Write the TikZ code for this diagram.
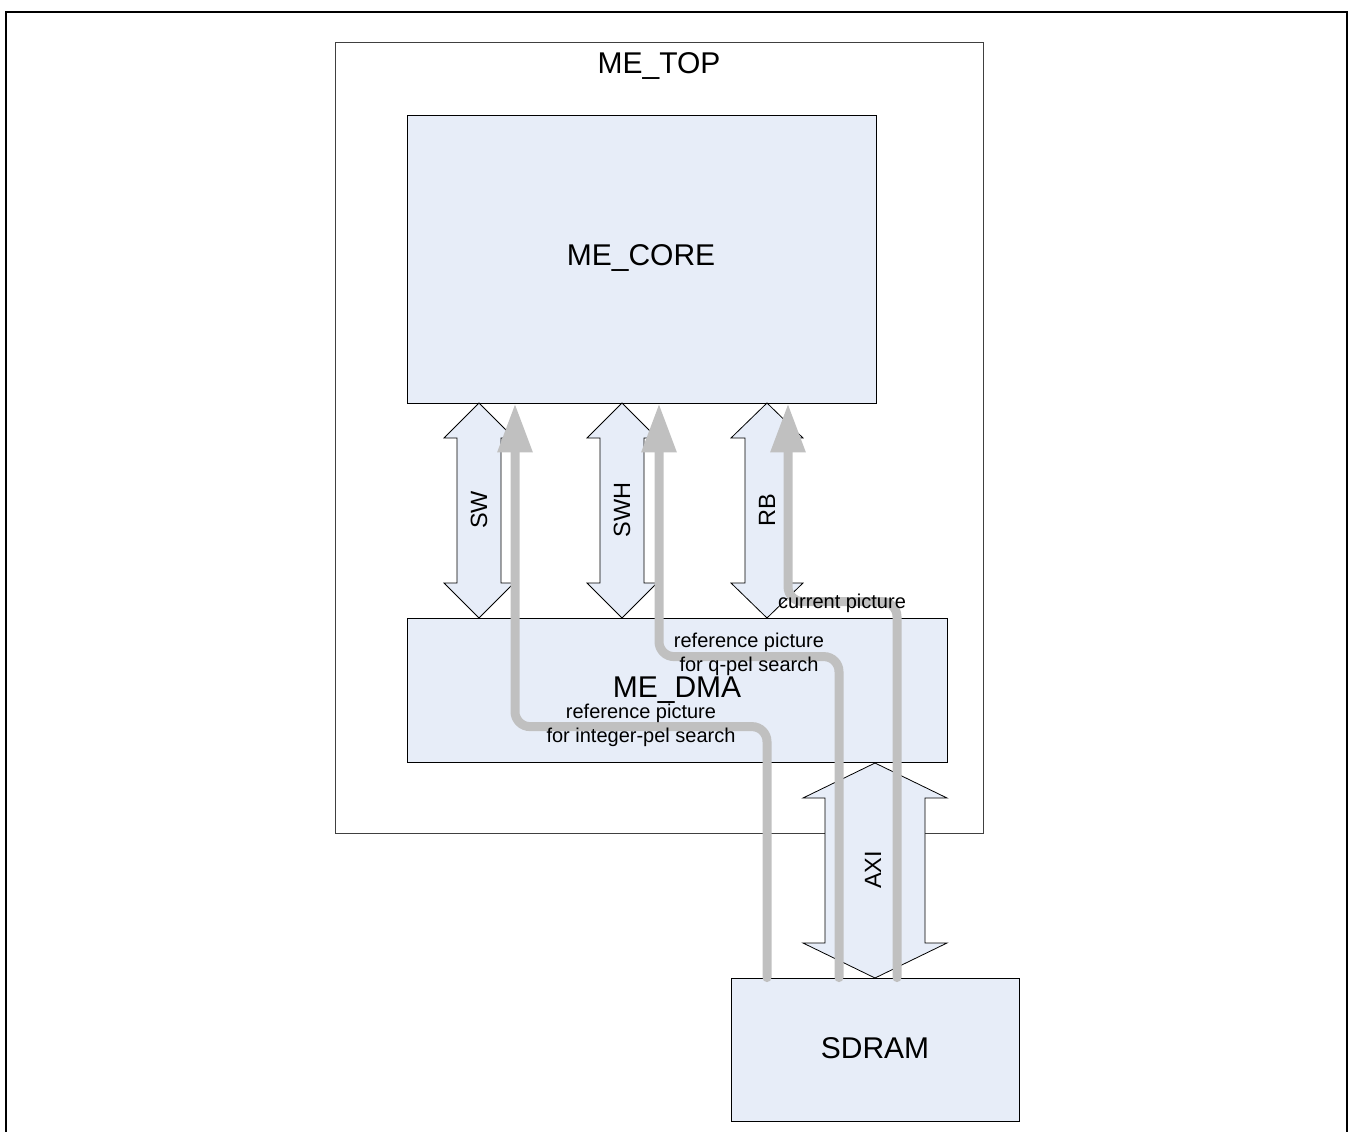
\documentclass[tikz,border=0pt]{standalone}
\usepackage{fontspec}
\setmainfont{Liberation Sans}
\usetikzlibrary{arrows.meta}
\definecolor{boxfill}{RGB}{231,237,248}
\definecolor{flowgray}{RGB}{192,192,192}
\newcommand\dblarrowpath[5]{%
  \filldraw[busarrow] (#1,#2) -- (#1+#4,#2+35) -- (#1+#5,#2+35) -- (#1+#5,#3-35)
    -- (#1+#4,#3-35) -- (#1,#3) -- (#1-#4,#3-35) -- (#1-#5,#3-35)
    -- (#1-#5,#2+35) -- (#1-#4,#2+35) -- cycle;}
\begin{document}
\begin{tikzpicture}[x=1pt,y=-1pt,
  block/.style={draw=black, line width=0.8pt, fill=boxfill, inner sep=0pt},
  busarrow/.style={draw=black, line width=0.8pt, fill=boxfill},
  bigtext/.style={font=\fontsize{30}{34}\selectfont},
  bustext/.style={font=\fontsize{23.5}{26}\selectfont, rotate=90},
  smalltext/.style={font=\fontsize{20}{24}\selectfont, align=center, inner sep=0pt},
  flow/.style={draw=flowgray, line width=9pt, line cap=round, rounded corners=15pt,
    -{Triangle[width=33pt,length=49pt]}}]
\useasboundingbox (0,0) rectangle (1353,1132);
% outer frame
\draw[line width=2.8pt] (6,1140) -- (6,12) -- (1347,12) -- (1347,1140);
% ME_TOP
\node[draw=black!75, line width=1pt, minimum width=648pt, minimum height=790pt, inner sep=0pt]
  (metop) at (659,438) {};
\node[bigtext] (metoplabel) at (659,66) {ME\_TOP};
% blocks
\node[block, minimum width=469pt, minimum height=288pt] (mecore) at (641.5,259) {};
\node[bigtext] (mecorelabel) at (641,258) {ME\_CORE};
\node[block, minimum width=540pt, minimum height=144pt] (medma) at (677,690) {};
\node[block, minimum width=288pt, minimum height=143pt] (sdram) at (875,1049.5) {};
\node[bigtext] (sdramlabel) at (875,1048) {SDRAM};
% bus arrows
\dblarrowpath{479}{403}{618}{35}{22}
\dblarrowpath{622}{403}{618}{35}{22}
\dblarrowpath{767}{403}{618}{36}{22}
\dblarrowpath{875}{763}{978}{72}{50}
\node[bustext] (swl) at (479,510) {SW};
\node[bustext] (swhl) at (622,510) {SWH};
\node[bustext] (rbl) at (767,510) {RB};
\node[bustext] (axil) at (873,870) {AXI};
% ME_DMA label (under the flows)
\node[bigtext] (medmalabel) at (677,690) {ME\_DMA};
% data flows
\draw[flow] ([xshift=-108pt]sdram.north) -- ++(0,-251) -| ([xshift=-126.5pt]mecore.south);
\draw[flow] ([xshift=-36pt]sdram.north) -- ++(0,-321) -| ([xshift=17.5pt]mecore.south);
\draw[flow] ([xshift=22pt]sdram.north) -- ++(0,-376) -| ([xshift=146.5pt]mecore.south);
% flow labels
\node[smalltext] (curl) at (842,603) {current picture};
\node[smalltext] (qpell) at (749,654) {reference picture\\for q-pel search};
\node[smalltext] (intl) at (641,725) {reference picture\\for integer-pel search};
\end{tikzpicture}
\end{document}
